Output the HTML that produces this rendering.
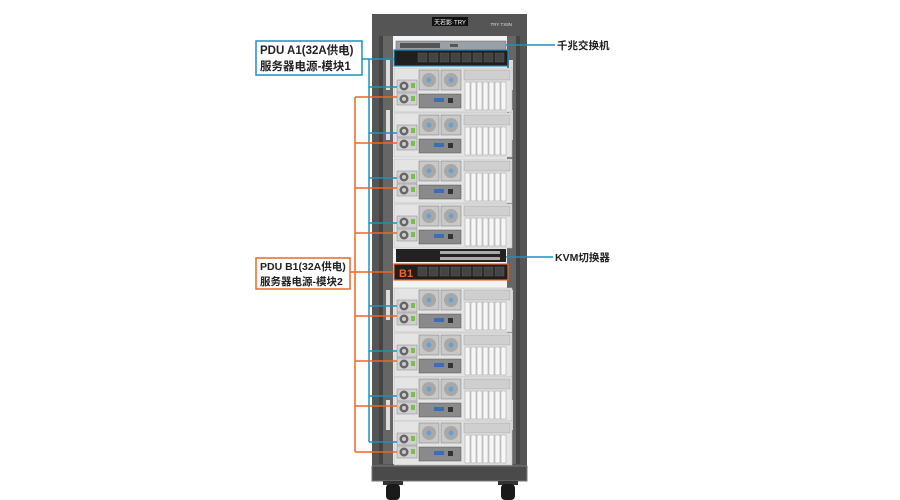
<!DOCTYPE html>
<html><head><meta charset="utf-8"><style>
body{margin:0;background:#fff;}
svg{display:block;font-family:"Liberation Sans","Noto Sans CJK SC",sans-serif;}
</style></head><body>
<svg width="900" height="500" viewBox="0 0 900 500" xmlns="http://www.w3.org/2000/svg">
<defs>
<g id="srv">
  <rect x="0" y="0" width="118" height="44" fill="#e4e4e4" stroke="#bcbcbc" stroke-width="0.6"/>
  <rect x="3" y="12" width="20" height="12" fill="#d0d0d0" stroke="#888" stroke-width="0.5"/>
  <circle cx="10" cy="18" r="4.5" fill="#666"/><circle cx="10" cy="18" r="2" fill="#ccc"/>
  <rect x="17" y="15" width="4" height="5" fill="#7bbf4a"/>
  <rect x="3" y="25" width="20" height="12" fill="#d0d0d0" stroke="#888" stroke-width="0.5"/>
  <circle cx="10" cy="31" r="4.5" fill="#666"/><circle cx="10" cy="31" r="2" fill="#ccc"/>
  <rect x="17" y="28" width="4" height="5" fill="#7bbf4a"/>
  <rect x="25" y="2" width="20" height="20" fill="#c8c8c8" stroke="#777" stroke-width="0.5"/>
  <circle cx="35" cy="12" r="7" fill="#a8a8a8"/><circle cx="35" cy="12" r="2.5" fill="#6aa0d0"/>
  <rect x="47" y="2" width="20" height="20" fill="#c8c8c8" stroke="#777" stroke-width="0.5"/>
  <circle cx="57" cy="12" r="7" fill="#a8a8a8"/><circle cx="57" cy="12" r="2.5" fill="#6aa0d0"/>
  <rect x="25" y="26" width="42" height="14" fill="#8a8a8a" stroke="#555" stroke-width="0.5"/>
  <rect x="40" y="30" width="10" height="4" fill="#3a6fb5"/>
  <rect x="54" y="30" width="5" height="5" fill="#333"/>
  <rect x="70" y="2" width="46" height="10" fill="#cfcfcf" stroke="#999" stroke-width="0.4"/>
  <g fill="#f6f6f6" stroke="#888" stroke-width="0.4">
   <rect x="71" y="14" width="5" height="28"/><rect x="77" y="14" width="5" height="28"/>
   <rect x="83" y="14" width="5" height="28"/><rect x="89" y="14" width="5" height="28"/>
   <rect x="95" y="14" width="5" height="28"/><rect x="101" y="14" width="5" height="28"/>
   <rect x="107" y="14" width="5" height="28"/>
  </g>
</g>
</defs>
<rect x="372" y="14" width="155" height="466" fill="#555" />
<rect x="379" y="36" width="141" height="428" fill="#444"/>
<rect x="383" y="36" width="10" height="428" fill="#666"/>
<rect x="506" y="36" width="10" height="428" fill="#666"/>
<g fill="#ddd">
<rect x="386" y="60" width="4" height="30"/><rect x="386" y="110" width="4" height="30"/><rect x="386" y="290" width="4" height="30"/><rect x="386" y="400" width="4" height="30"/>
<rect x="509" y="60" width="4" height="30"/><rect x="509" y="110" width="4" height="30"/><rect x="509" y="290" width="4" height="30"/><rect x="509" y="400" width="4" height="30"/>
</g>
<rect x="393" y="36" width="114" height="428" fill="#f4f4f4"/>
<rect x="432" y="17" width="36" height="9" fill="#111"/>
<text x="450" y="24.5" font-size="6" fill="#fff" text-anchor="middle">天若影·TRY</text>
<text x="512" y="26" font-size="4.5" fill="#ddd" text-anchor="end">TRY TX8N</text>
<rect x="396" y="41" width="110" height="9" fill="#9aa0a8" stroke="#666" stroke-width="0.5"/>
<g fill="#555"><rect x="400" y="43" width="40" height="5"/><rect x="450" y="44" width="8" height="3"/></g>
<rect x="394" y="50" width="114" height="16" fill="#1f1f1f" stroke="#1d8fc0" stroke-width="1.2"/>
<g fill="#444" stroke="#666" stroke-width="0.4">
<rect x="418" y="53" width="9" height="9"/><rect x="429" y="53" width="9" height="9"/><rect x="440" y="53" width="9" height="9"/><rect x="451" y="53" width="9" height="9"/><rect x="462" y="53" width="9" height="9"/><rect x="473" y="53" width="9" height="9"/><rect x="484" y="53" width="9" height="9"/><rect x="495" y="53" width="9" height="9"/>
</g>
<use href="#srv" x="394" y="68"/>
<use href="#srv" x="394" y="113"/>
<use href="#srv" x="394" y="159"/>
<use href="#srv" x="394" y="204"/>
<rect x="396" y="249" width="110" height="13" fill="#222"/>
<g fill="#aaa"><rect x="440" y="251" width="60" height="3"/><rect x="440" y="257" width="60" height="3"/></g>
<rect x="394" y="264" width="114" height="16" fill="#1f1f1f" stroke="#f26522" stroke-width="1.2"/>
<text x="399" y="277" font-size="11" font-weight="bold" fill="#f26522">B1</text>
<g fill="#444" stroke="#666" stroke-width="0.4">
<rect x="418" y="267" width="9" height="9"/><rect x="429" y="267" width="9" height="9"/><rect x="440" y="267" width="9" height="9"/><rect x="451" y="267" width="9" height="9"/><rect x="462" y="267" width="9" height="9"/><rect x="473" y="267" width="9" height="9"/><rect x="484" y="267" width="9" height="9"/><rect x="495" y="267" width="9" height="9"/>
</g>
<use href="#srv" x="394" y="288"/>
<use href="#srv" x="394" y="333"/>
<use href="#srv" x="394" y="377"/>
<use href="#srv" x="394" y="421"/>
<rect x="372" y="466" width="155" height="15" fill="#4a4a4a" stroke="#777" stroke-width="1"/>
<rect x="383" y="481" width="20" height="4" fill="#333"/>
<rect x="498" y="481" width="20" height="4" fill="#333"/>
<rect x="386" y="484" width="14" height="16" rx="4" fill="#1a1a1a"/>
<rect x="501" y="484" width="14" height="16" rx="4" fill="#1a1a1a"/>
<g stroke="#1d8fc0" stroke-width="1.5" fill="none">
<polyline points="362,59 394,59"/>
<line x1="369" y1="59" x2="369" y2="442"/>
<line x1="369" y1="87" x2="397" y2="87"/>
<line x1="369" y1="133" x2="397" y2="133"/>
<line x1="369" y1="178" x2="397" y2="178"/>
<line x1="369" y1="223" x2="397" y2="223"/>
<line x1="369" y1="306" x2="397" y2="306"/>
<line x1="369" y1="351" x2="397" y2="351"/>
<line x1="369" y1="396" x2="397" y2="396"/>
<line x1="369" y1="442" x2="397" y2="442"/>
<line x1="506" y1="45" x2="555" y2="45"/>
<line x1="506" y1="257" x2="553" y2="257"/>
</g>
<g stroke="#f26522" stroke-width="1.5" fill="none">
<line x1="350" y1="272" x2="394" y2="272"/>
<line x1="355" y1="97" x2="355" y2="452"/>
<line x1="355" y1="97" x2="397" y2="97"/>
<line x1="355" y1="143" x2="397" y2="143"/>
<line x1="355" y1="188" x2="397" y2="188"/>
<line x1="355" y1="233" x2="397" y2="233"/>
<line x1="355" y1="316" x2="397" y2="316"/>
<line x1="355" y1="361" x2="397" y2="361"/>
<line x1="355" y1="406" x2="397" y2="406"/>
<line x1="355" y1="452" x2="397" y2="452"/>
</g>
<rect x="256" y="41" width="106" height="34" fill="#fff" stroke="#1d8fc0" stroke-width="1.5"/>
<text x="260" y="54" font-size="11.5" font-weight="bold" fill="#222">PDU A1(32A供电)</text>
<text x="260" y="70" font-size="11.5" font-weight="bold" fill="#222">服务器电源-模块1</text>
<rect x="256" y="258" width="94" height="31" fill="#fff" stroke="#f26522" stroke-width="1.5"/>
<text x="260" y="270" font-size="10.5" font-weight="bold" fill="#222">PDU B1(32A供电)</text>
<text x="260" y="285" font-size="10.5" font-weight="bold" fill="#222">服务器电源-模块2</text>
<text x="557" y="49" font-size="10.5" font-weight="bold" fill="#222">千兆交换机</text>
<text x="555" y="261" font-size="10.5" font-weight="bold" fill="#222">KVM切换器</text>
</svg>
</body></html>
